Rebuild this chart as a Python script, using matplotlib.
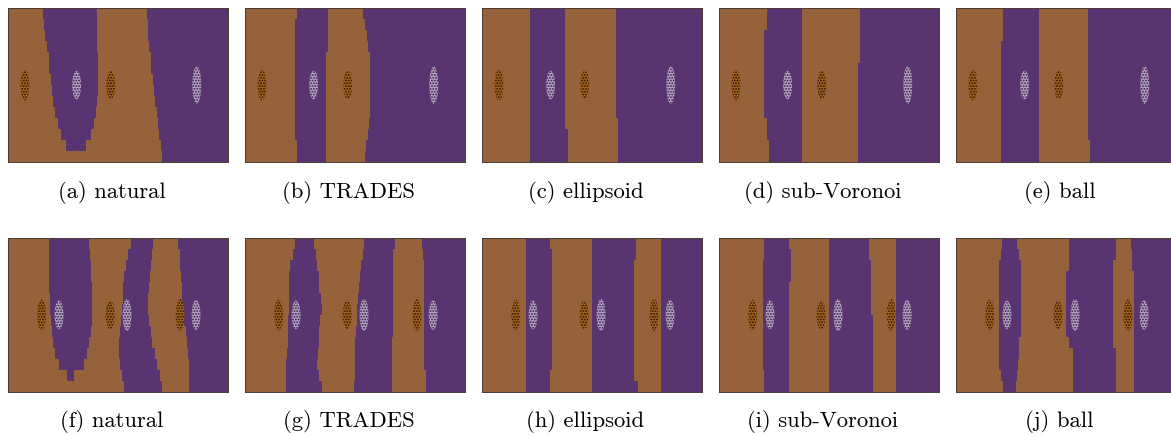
import numpy as np
import matplotlib
matplotlib.use('Agg')
import matplotlib.pyplot as plt
from matplotlib.colors import ListedColormap
from matplotlib.patches import Ellipse

plt.rcParams['font.family'] = ['cmr10', 'DejaVu Serif']
plt.rcParams['hatch.linewidth'] = 0.9

nan = np.nan

# boundary x-positions (0..10) for 14 horizontal rows, top to bottom
top_captions = ['(a) natural', '(b) TRADES', '(c) ellipsoid', '(d) sub-Voronoi', '(e) ball']
bottom_captions = ['(f) natural', '(g) TRADES', '(h) ellipsoid', '(i) sub-Voronoi', '(j) ball']

bnd_a = [
    [1.57, 1.63, 1.68, 1.75, 1.83, 1.87, 1.93, 2.01, 2.05, 2.13, 2.24, 2.39, 2.63, nan],
    [4.02, 4.02, 4.03, 4.05, 4.06, 4.06, 4.06, 4.06, 4.05, 3.97, 3.88, 3.76, 3.53, nan],
    [6.30, 6.33, 6.37, 6.42, 6.47, 6.51, 6.57, 6.63, 6.69, 6.75, 6.80, 6.86, 6.93, 6.99],
]
bnd_b = [
    [2.34, 2.27, 2.27, 2.27, 2.27, 2.27, 2.27, 2.27, 2.27, 2.27, 2.27, 2.27, 2.37, 2.37],
    [3.78, 3.78, 3.78, 3.78, 3.67, 3.67, 3.67, 3.67, 3.67, 3.67, 3.67, 3.67, 3.67, 3.67],
    [5.35, 5.44, 5.53, 5.60, 5.69, 5.69, 5.69, 5.69, 5.69, 5.69, 5.63, 5.59, 5.48, 5.45],
]
bnd_c = [
    [2.18] * 14,
    [3.78, 3.78, 3.78, 3.78, 3.78, 3.78, 3.78, 3.78, 3.78, 3.78, 3.78, 3.88, 3.88, 3.88],
    [6.10, 6.10, 6.10, 6.10, 6.10, 6.10, 6.10, 6.10, 6.10, 6.10, 6.19, 6.19, 6.19, 6.19],
]
bnd_d = [
    [2.16, 2.16, 2.05, 2.05, 2.05, 2.05, 2.05, 2.05, 2.05, 2.05, 2.16, 2.16, 2.27, 2.27],
    [3.78] * 14,
    [6.40, 6.40, 6.40, 6.40, 6.40, 6.31, 6.31, 6.31, 6.31, 6.31, 6.31, 6.31, 6.31, 6.31],
]
bnd_e = [
    [2.14, 2.14, 2.14, 2.04, 2.04, 2.04, 2.04, 2.04, 2.04, 2.04, 2.04, 2.04, 2.04, 2.04],
    [3.78] * 14,
    [6.00, 6.00, 6.00, 6.00, 6.00, 6.00, 6.00, 6.00, 6.00, 6.00, 6.00, 6.00, 6.10, 6.10],
]
bnd_f = [
    [1.87, 1.87, 1.87, 1.87, 1.87, 1.89, 1.90, 1.93, 1.98, 2.05, 2.14, 2.30, 2.66, nan],
    [3.69, 3.73, 3.75, 3.78, 3.79, 3.79, 3.79, 3.79, 3.76, 3.69, 3.60, 3.44, 2.99, nan],
    [5.57, 5.45, 5.35, 5.26, 5.23, 5.20, 5.15, 5.11, 5.08, 5.05, 5.05, 5.08, 5.15, 5.26],
    [6.59, 6.54, 6.48, 6.44, 6.39, 6.37, 6.37, 6.40, 6.47, 6.54, 6.66, 6.77, 6.89, 6.98],
    [7.72, 7.79, 7.82, 7.87, 7.89, 7.92, 7.95, 7.99, 8.07, 8.14, 8.19, 8.20, 8.20, 8.20],
]
bnd_g = [
    [2.27, 2.15, 2.04, 1.99, 1.99, 1.99, 1.98, 1.96, 1.96, 1.93, 1.89, 1.86, 1.86, 1.86],
    [3.13, 3.22, 3.28, 3.35, 3.37, 3.46, 3.47, 3.40, 3.35, 3.35, 3.29, 3.28, 3.37, 3.47],
    [5.39, 5.33, 5.27, 5.21, 5.18, 5.12, 5.09, 5.06, 5.03, 5.00, 4.98, 4.98, 4.97, 4.94],
    [6.80, 6.72, 6.72, 6.72, 6.72, 6.72, 6.72, 6.72, 6.72, 6.65, 6.65, 6.65, 6.65, 6.65],
    [8.02, 8.08, 8.13, 8.13, 8.13, 8.13, 8.13, 8.13, 8.13, 8.13, 8.13, 8.13, 8.23, 8.23],
]
bnd_h = [
    [1.98] * 14,
    [3.08, 3.16, 3.16, 3.16, 3.16, 3.16, 3.16, 3.16, 3.16, 3.16, 3.16, 3.16, 3.08, 3.08],
    [5.00] * 14,
    [7.01, 7.01, 6.90, 6.90, 6.90, 6.90, 6.90, 6.90, 6.90, 6.90, 6.90, 6.90, 6.90, 7.08],
    [8.11] * 14,
]
bnd_i = [
    [2.05, 2.05, 1.98, 1.98, 1.98, 1.98, 1.98, 1.98, 1.98, 1.98, 1.98, 1.98, 2.05, 2.05],
    [3.19, 3.25, 3.25, 3.25, 3.17, 3.17, 3.17, 3.17, 3.17, 3.17, 3.17, 3.17, 3.17, 3.17],
    [5.00] * 14,
    [6.81, 6.81, 6.92, 6.92, 6.92, 6.92, 6.92, 6.99, 6.99, 6.99, 6.99, 6.99, 6.99, 6.99],
    [8.02] * 14,
]
bnd_j = [
    [2.11, 2.07, 1.96, 1.96, 1.96, 1.96, 1.96, 1.96, 1.96, 1.96, 1.96, 1.96, 2.07, 2.14],
    [2.78, 2.87, 2.98, 2.98, 2.98, 2.98, 2.98, 2.98, 2.98, 2.87, 2.87, 2.84, 2.78, 2.72],
    [5.17, 5.17, 5.17, 5.02, 5.02, 5.02, 5.02, 5.02, 5.02, 5.17, 5.32, 5.32, 5.32, 5.32],
    [7.28, 7.28, 7.13, 7.13, 7.13, 7.13, 7.13, 7.13, 7.13, 7.13, 7.28, 7.28, 7.28, 7.28],
    [7.96, 8.01, 8.01, 8.11, 8.11, 8.11, 8.11, 8.11, 8.11, 8.11, 8.11, 8.11, 8.11, 8.11],
]

# cluster centres (x), class and height
top_clusters_x = [0.77, 3.12, 4.67, 8.58]
top_clusters_cls = [0, 1, 0, 1]
top_clusters_h = [1.40, 1.30, 1.30, 1.70]
bottom_clusters_x = [1.53, 2.32, 4.64, 5.41, 7.82, 8.55]
bottom_clusters_cls = [0, 1, 0, 1, 0, 1]
bottom_clusters_h = [1.40, 1.30, 1.30, 1.45, 1.45, 1.35]
cluster_y = 3.5

region_colors = ['#96623b', '#583470']
cluster_face = ['#a4621c', '#b7a0c8']
cluster_hatch = ['#1e1206', '#2c1e3a']

fig = plt.figure(figsize=(11.71, 4.36), dpi=100)
W, H = 1171.0, 436.0
lefts = [8, 245, 482, 719, 956]
row_tops = [8, 238]
pw, ph = 220, 154

xe = np.linspace(0, 10, 441)
xc = 0.5 * (xe[:-1] + xe[1:])
ye = np.linspace(0, 7, 15)
cmap = ListedColormap(region_colors)


def draw_panel(ax, bnds, cx, ccls, ch):
    b = np.array(bnds, dtype=float)
    grid = np.zeros((14, len(xc)), dtype=int)
    for r in range(14):
        for v in b[:, r]:
            if not np.isnan(v):
                grid[r] += (xc > v)
    grid = grid % 2
    ax.pcolormesh(xe, ye, grid, cmap=cmap, vmin=0, vmax=1, shading='flat')
    for x, c, h in zip(cx, ccls, ch):
        e = Ellipse((x, cluster_y), 0.40, h, facecolor=cluster_face[c],
                    edgecolor=cluster_hatch[c], hatch='......', lw=0, zorder=3)
        ax.add_patch(e)
    ax.set_xlim(0, 10)
    ax.set_ylim(7, 0)
    ax.set_xticks([])
    ax.set_yticks([])
    for s in ax.spines.values():
        s.set_linewidth(0.7)
        s.set_color('#4a3b33')


top_bnds = [bnd_a, bnd_b, bnd_c, bnd_d, bnd_e]
bottom_bnds = [bnd_f, bnd_g, bnd_h, bnd_i, bnd_j]

for row, (bset, caps, cx, ccls, ch, cap_y) in enumerate([
        (top_bnds, top_captions, top_clusters_x, top_clusters_cls, top_clusters_h, 192),
        (bottom_bnds, bottom_captions, bottom_clusters_x, bottom_clusters_cls, bottom_clusters_h, 421)]):
    for i in range(5):
        ax = fig.add_axes([lefts[i] / W, (H - row_tops[row] - ph) / H, pw / W, ph / H])
        draw_panel(ax, bset[i], cx, ccls, ch)
        fig.text((lefts[i] + pw / 2 - 6.5) / W, (H - cap_y) / H, caps[i],
                 ha='center', va='center', fontsize=16.3)

fig.savefig('out.png', dpi=100)
